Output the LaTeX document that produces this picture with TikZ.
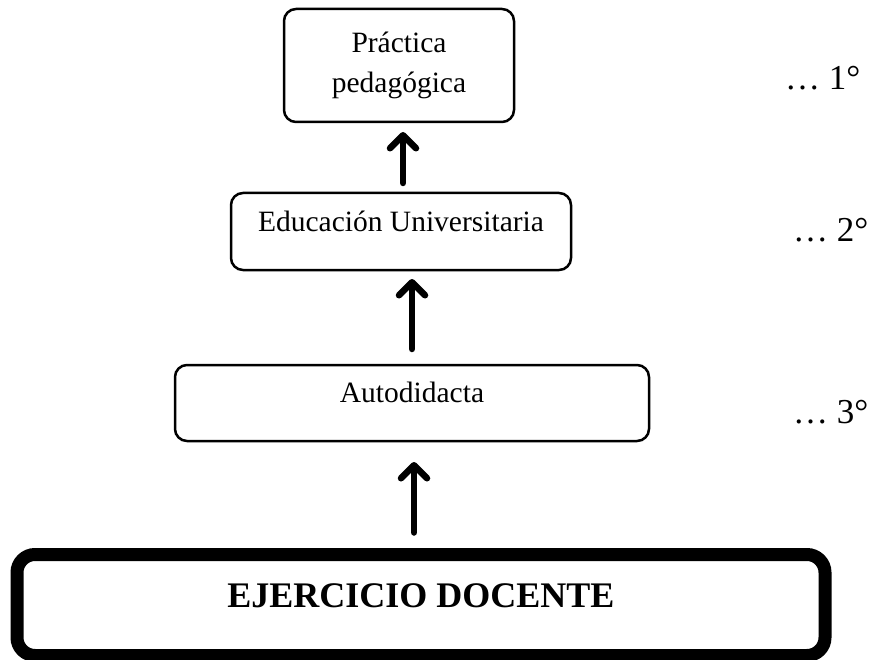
\documentclass[tikz,border=0pt]{standalone}
\usepackage{fontspec}
\setmainfont{Liberation Serif}
\usetikzlibrary{arrows.meta}
\tikzset{
  caja/.style={draw,line width=2.5pt,rounded corners=12pt,align=center,
    inner sep=0pt,outer sep=0pt,font=\fontsize{29.5}{40}\selectfont},
  flecha/.style={line width=6.5pt,line cap=round,
    -{Straight Barb[length=13pt,width=26pt,line cap=round,line join=round]}},
  nivel/.style={anchor=base west,inner sep=0pt,font=\fontsize{35}{40}\selectfont}
}
\begin{document}
\begin{tikzpicture}[x=1pt,y=-1pt]
		\useasboundingbox (0,0) rectangle (872,660);
		\node[caja,minimum width=230pt,minimum height=113pt] (practica) at (399,65.5) {Práctica\\pedagógica};
		\node[caja,minimum width=340pt,minimum height=77pt,text height=20pt,text depth=20pt] (educacion) at (401,231.5) {Educación Universitaria};
		\node[caja,minimum width=474pt,minimum height=76pt,text height=19pt,text depth=20pt] (autodidacta) at (412,403) {Autodidacta};
		\node[caja,line width=13pt,rounded corners=18pt,minimum width=808pt,minimum height=101pt,
			text height=26pt,text depth=22pt,font=\fontsize{36}{40}\selectfont\bfseries] (ejercicio) at (421,605) {EJERCICIO DOCENTE};
		% flechas
		\draw[flecha,shorten <=10pt,shorten >=10pt] ([xshift=2pt]educacion.north) -- ([xshift=2pt]educacion.north |- practica.south);
		\draw[flecha,shorten <=16pt,shorten >=9pt] ([xshift=0pt]autodidacta.north) -- (autodidacta.north |- educacion.south);
		\draw[flecha,shorten <=22pt,shorten >=21pt] ([xshift=-7pt]ejercicio.north) -- ([xshift=-7pt]ejercicio.north |- autodidacta.south);
		% niveles
		\node[nivel] (nivel1) at (785,90) {… 1°};
		\node[nivel] (nivel2) at (793,242) {… 2°};
		\node[nivel] (nivel3) at (793,423) {… 3°};
	\end{tikzpicture}
\end{document}
